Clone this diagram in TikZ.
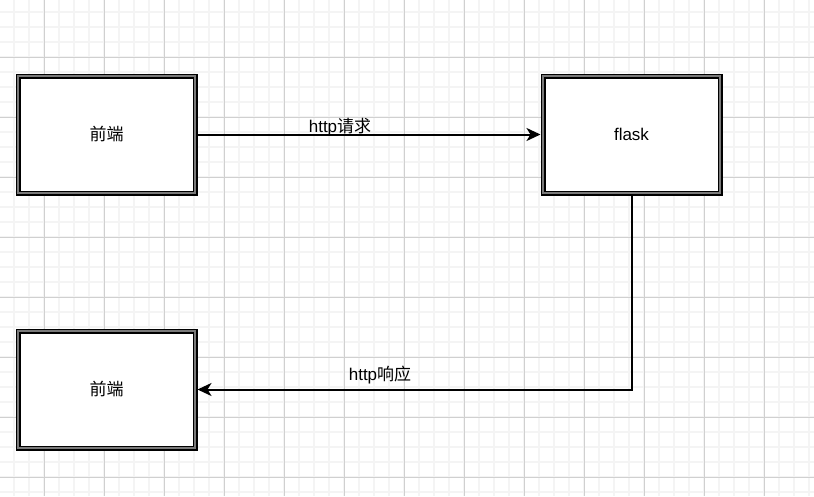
\documentclass[tikz,border=0pt]{standalone}
\usepackage{fontspec}
\setmainfont{Liberation Sans}
\newfontfamily\cjk{Noto Sans CJK SC}
\usetikzlibrary{arrows.meta}
\definecolor{minorgrid}{HTML}{F4F4F4}
\definecolor{majorgrid}{HTML}{D0D0D0}
\definecolor{bandgray}{HTML}{7A7A7A}
\tikzset{
  box/.style={draw=black, line width=1.4pt, double=bandgray, double distance=2.2pt,
    fill=white, minimum width=177pt, minimum height=117pt, inner sep=0pt,
    outer sep=2.5pt, font=\fontsize{17}{20}\selectfont},
  conn/.style={draw=black, line width=2pt,
    -{Stealth[length=14pt,width=13pt,inset=4pt]}},
  lbl/.style={inner sep=0pt, font=\fontsize{17}{20}\selectfont}
}
\begin{document}
\begin{tikzpicture}[x=1pt,y=-1pt]
\useasboundingbox (0,0) rectangle (814,496);
\fill[white] (0,0) rectangle (814,496);
% minor grid
\foreach \i in {0,...,53} {\draw[minorgrid, line width=2pt] ({14+15*\i},0) -- ({14+15*\i},496);}
\foreach \j in {0,...,32} {\draw[minorgrid, line width=2pt] (0,{12+15*\j}) -- (814,{12+15*\j});}
% major grid
\foreach \i in {0,...,13} {\draw[majorgrid, line width=1pt] ({44+60*\i},0) -- ({44+60*\i},496);}
\foreach \j in {0,...,7} {\draw[majorgrid, line width=1pt] (0,{57+60*\j}) -- (814,{57+60*\j});}
% boxes
\node[box] (fe1) at (106.5,134.5) {\cjk 前端};
\node[box] (fl) at (631.5,134.5) {flask};
\node[box] (fe2) at (106.5,389.5) {\cjk 前端};
% connectors
\draw[conn] (fe1.east) -- (fl.west);
\draw[conn] (fl.south) |- (fe2.east);
% labels
\node[lbl] (l1) at (340,127) {http{\cjk 请求}};
\node[lbl] (l2) at (380,375) {http{\cjk 响应}};
\end{tikzpicture}
\end{document}
